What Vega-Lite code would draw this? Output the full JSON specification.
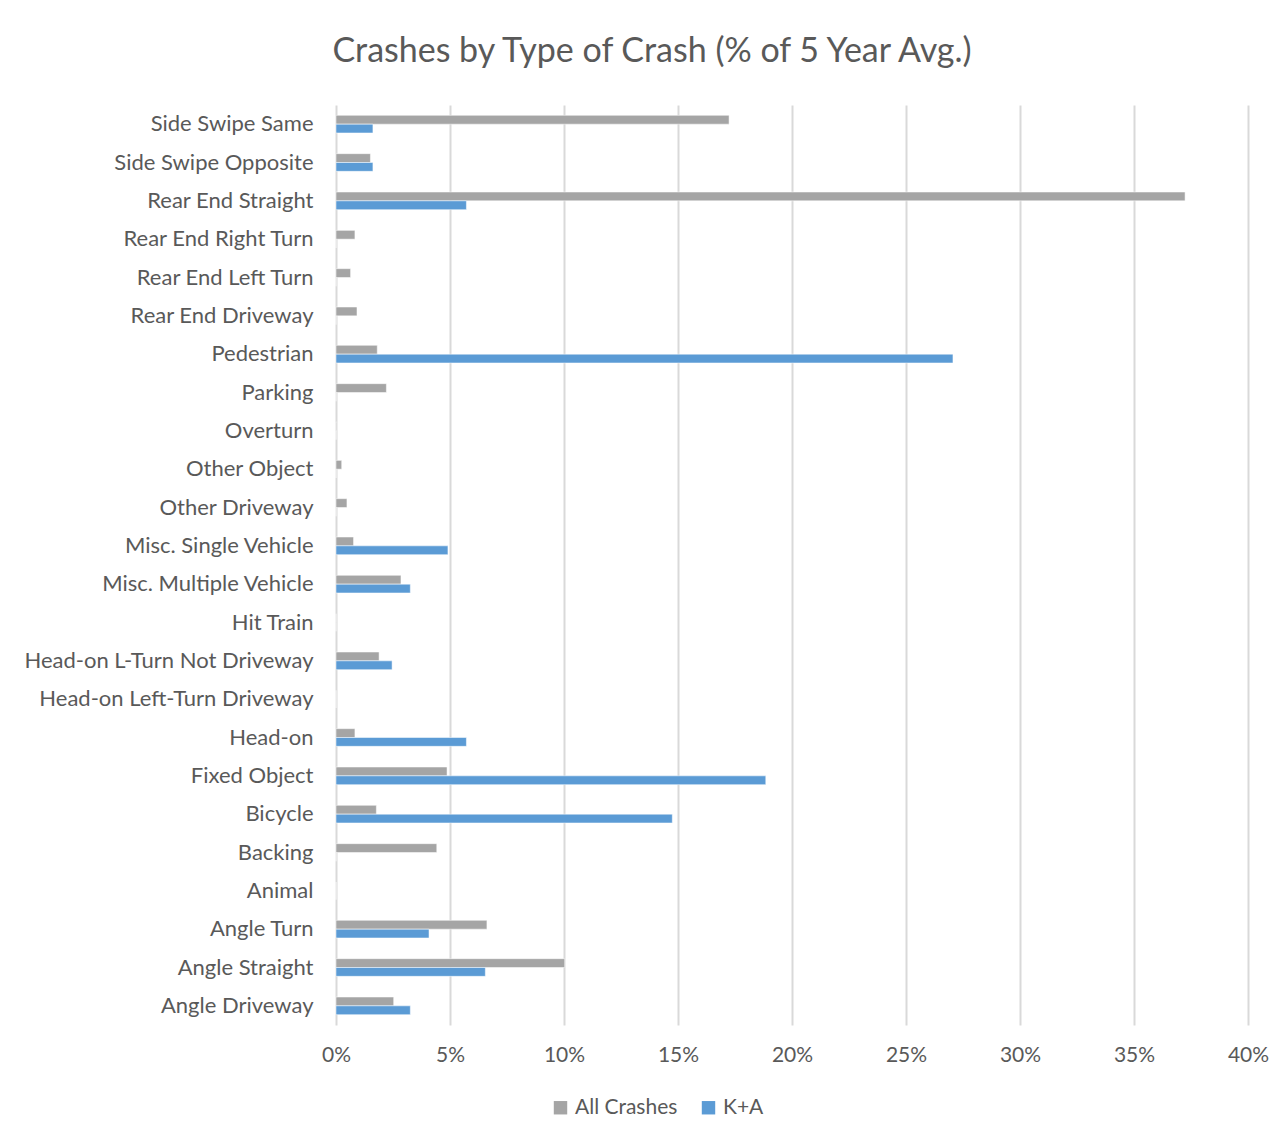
{
  "$schema": "https://vega.github.io/schema/vega-lite/v6.json",
  "autosize": {"type": "none"},
  "width": 912,
  "height": 920,
  "padding": {"left": 336, "top": 105, "right": 31, "bottom": 118},
  "background": "white",
  "title": {
    "text": "Crashes by Type of Crash (% of 5 Year Avg.)",
    "anchor": "middle",
    "dx": -140,
    "offset": 36,
    "font": "Lato",
    "fontSize": 34,
    "fontWeight": "normal",
    "color": "#595959"
  },
  "data": {
    "values": [
      {"type": "Side Swipe Same", "series": "All Crashes", "value": 0.1724},
      {"type": "Side Swipe Same", "series": "K+A", "value": 0.0162},
      {"type": "Side Swipe Opposite", "series": "All Crashes", "value": 0.0151},
      {"type": "Side Swipe Opposite", "series": "K+A", "value": 0.0162},
      {"type": "Rear End Straight", "series": "All Crashes", "value": 0.3724},
      {"type": "Rear End Straight", "series": "K+A", "value": 0.0572},
      {"type": "Rear End Right Turn", "series": "All Crashes", "value": 0.0083},
      {"type": "Rear End Right Turn", "series": "K+A", "value": 0},
      {"type": "Rear End Left Turn", "series": "All Crashes", "value": 0.0064},
      {"type": "Rear End Left Turn", "series": "K+A", "value": 0},
      {"type": "Rear End Driveway", "series": "All Crashes", "value": 0.0092},
      {"type": "Rear End Driveway", "series": "K+A", "value": 0},
      {"type": "Pedestrian", "series": "All Crashes", "value": 0.0181},
      {"type": "Pedestrian", "series": "K+A", "value": 0.2706},
      {"type": "Parking", "series": "All Crashes", "value": 0.0221},
      {"type": "Parking", "series": "K+A", "value": 0},
      {"type": "Overturn", "series": "All Crashes", "value": 0.0003},
      {"type": "Overturn", "series": "K+A", "value": 0},
      {"type": "Other Object", "series": "All Crashes", "value": 0.0025},
      {"type": "Other Object", "series": "K+A", "value": 0},
      {"type": "Other Driveway", "series": "All Crashes", "value": 0.0048},
      {"type": "Other Driveway", "series": "K+A", "value": 0},
      {"type": "Misc. Single Vehicle", "series": "All Crashes", "value": 0.0077},
      {"type": "Misc. Single Vehicle", "series": "K+A", "value": 0.0491},
      {"type": "Misc. Multiple Vehicle", "series": "All Crashes", "value": 0.0285},
      {"type": "Misc. Multiple Vehicle", "series": "K+A", "value": 0.0326},
      {"type": "Hit Train", "series": "All Crashes", "value": 0},
      {"type": "Hit Train", "series": "K+A", "value": 0},
      {"type": "Head-on L-Turn Not Driveway", "series": "All Crashes", "value": 0.0189},
      {"type": "Head-on L-Turn Not Driveway", "series": "K+A", "value": 0.0246},
      {"type": "Head-on Left-Turn Driveway", "series": "All Crashes", "value": 0},
      {"type": "Head-on Left-Turn Driveway", "series": "K+A", "value": 0},
      {"type": "Head-on", "series": "All Crashes", "value": 0.0083},
      {"type": "Head-on", "series": "K+A", "value": 0.0572},
      {"type": "Fixed Object", "series": "All Crashes", "value": 0.0487},
      {"type": "Fixed Object", "series": "K+A", "value": 0.1885},
      {"type": "Bicycle", "series": "All Crashes", "value": 0.0177},
      {"type": "Bicycle", "series": "K+A", "value": 0.1475},
      {"type": "Backing", "series": "All Crashes", "value": 0.0442},
      {"type": "Backing", "series": "K+A", "value": 0},
      {"type": "Animal", "series": "All Crashes", "value": 0},
      {"type": "Animal", "series": "K+A", "value": 0},
      {"type": "Angle Turn", "series": "All Crashes", "value": 0.0662},
      {"type": "Angle Turn", "series": "K+A", "value": 0.0408},
      {"type": "Angle Straight", "series": "All Crashes", "value": 0.1003},
      {"type": "Angle Straight", "series": "K+A", "value": 0.0655},
      {"type": "Angle Driveway", "series": "All Crashes", "value": 0.0253},
      {"type": "Angle Driveway", "series": "K+A", "value": 0.0326}
    ]
  },
  "mark": {"type": "bar", "stroke": "white", "strokeWidth": 0.5},
  "encoding": {
    "y": {
      "field": "type",
      "type": "nominal",
      "sort": ["Side Swipe Same", "Side Swipe Opposite", "Rear End Straight", "Rear End Right Turn", "Rear End Left Turn", "Rear End Driveway", "Pedestrian", "Parking", "Overturn", "Other Object", "Other Driveway", "Misc. Single Vehicle", "Misc. Multiple Vehicle", "Hit Train", "Head-on L-Turn Not Driveway", "Head-on Left-Turn Driveway", "Head-on", "Fixed Object", "Bicycle", "Backing", "Animal", "Angle Turn", "Angle Straight", "Angle Driveway"],
      "scale": {"paddingInner": 0.54, "paddingOuter": 0.27},
      "axis": {
        "title": null,
        "domain": false,
        "ticks": false,
        "grid": false,
        "labelFont": "Lato",
        "labelFontSize": 22,
        "labelColor": "#595959",
        "labelPadding": 23,
        "labelLimit": 400
      }
    },
    "yOffset": {
      "field": "series",
      "type": "nominal",
      "sort": ["All Crashes", "K+A"],
      "scale": {"paddingInner": 0, "paddingOuter": 0}
    },
    "x": {
      "field": "value",
      "type": "quantitative",
      "scale": {"domain": [0, 0.4], "nice": false},
      "axis": {
        "title": null,
        "format": ".0%",
        "values": [0, 0.05, 0.1, 0.15, 0.2, 0.25, 0.3, 0.35, 0.4],
        "domain": false,
        "ticks": false,
        "grid": true,
        "gridColor": "#d9d9d9",
        "gridWidth": 2,
        "labelFlush": false,
        "labelFont": "Lato",
        "labelFontSize": 21,
        "labelColor": "#595959",
        "labelPadding": 19
      }
    },
    "color": {
      "field": "series",
      "type": "nominal",
      "scale": {"domain": ["All Crashes", "K+A"], "range": ["#A5A5A5", "#5B9BD5"]},
      "legend": {
        "title": null,
        "orient": "none",
        "direction": "horizontal",
        "legendX": 214,
        "legendY": 992,
        "symbolType": "square",
        "symbolSize": 180,
        "symbolStrokeWidth": 0,
        "labelFont": "Lato",
        "labelFontSize": 21,
        "labelColor": "#595959",
        "columnPadding": 20,
        "labelOffset": 4
      }
    }
  },
  "config": {"view": {"stroke": null}}
}
